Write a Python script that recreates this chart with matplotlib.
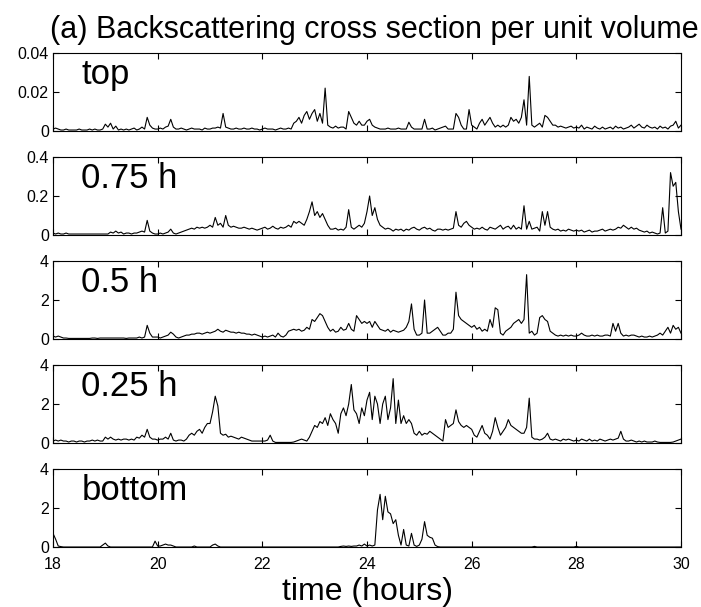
import numpy as np
import matplotlib
matplotlib.use('Agg')
import matplotlib.pyplot as plt

plt.rcParams['font.family'] = ['Liberation Sans', 'DejaVu Sans']

# valores, uma linha por hora (passo de 0.05 h)
# top: unidades de 1e-3
top_vals = [
    1, 1.5, 1, 0.5, 0.5, 1, 0.5, 0.5, 0.5, 0.5, 1, 0.5, 0.5, 0.5, 1, 0.5, 1, 0.5, 0.5, 1,
    3.5, 2, 4, 1, 2.5, 0.5, 1, 0.5, 1, 0.5, 1, 1.5, 0.5, 1, 2, 1, 7, 3, 1.5, 1,
    1, 1.5, 1, 2, 2.5, 6, 2, 1, 1, 1.5, 1, 0.5, 1, 1.5, 1, 1, 1, 0.5, 1.5, 1,
    1, 1.5, 1.5, 2, 1.5, 9, 2, 1.5, 1, 1, 1.5, 1, 1, 1.5, 1, 1, 1.5, 1, 1, 0.5,
    1, 1.5, 1, 1, 1, 0.5, 1, 1.5, 1, 1, 1.5, 1, 4, 5, 7, 4, 8, 10, 6, 9,
    11, 5, 9, 4, 22, 3, 2, 1.5, 2.5, 1.5, 2, 2, 1, 10, 7, 4, 3, 5, 3, 3,
    5, 6, 3, 2, 1.5, 1, 1, 1, 1.5, 1, 1, 1, 1.5, 1, 1, 1, 4.5, 2, 1, 1,
    1, 1, 6, 1, 1, 1.5, 0.5, 1, 1.5, 2, 2.5, 1, 1, 1, 9, 7, 3, 1, 1, 11,
    3, 2, 1, 4, 6, 3, 5, 7, 4, 2, 3, 2, 3, 2, 3, 7, 5, 6, 4, 7,
    16, 3, 28, 3, 2, 3, 4, 2, 8, 7, 5, 3, 3, 2, 2.5, 2, 1.5, 2, 2.5, 1.5,
    2, 1.5, 3, 1, 2, 1.5, 1, 2.5, 1.5, 1, 2, 1, 1.5, 2, 1, 2.5, 1.5, 2, 1, 1.5,
    2, 3, 1.5, 2.5, 3.5, 2, 1.5, 3, 2, 1.5, 2, 1, 2.5, 1.5, 2, 1, 2.5, 3, 5, 1.5,
    3]

# 0.75 h: unidades de 0.01
h075_vals = [
    1, 0.5, 1, 0.5, 0.5, 1, 0.5, 0.5, 0.5, 0.5, 0.5, 0.5, 0.5, 0.5, 0.5, 0.5, 0.5, 0.5, 0.5, 0.5,
    0.5, 0.5, 1.5, 1, 2, 1, 1.5, 0.5, 1, 1, 0.5, 1, 1, 1.5, 2, 1.5, 7.5, 2, 1, 0.5,
    0.5, 1, 0.5, 1, 1.5, 3, 1, 0.5, 1, 1.5, 2, 2.5, 3, 3.5, 3, 4, 3.5, 4, 3.5, 4,
    5, 4, 9, 5, 6, 4, 10, 5, 4, 4.5, 4, 3.5, 3.5, 4, 3.5, 3, 3.5, 3, 2.5, 3,
    3.5, 4, 3, 3.5, 4.5, 3.5, 3, 4, 3.5, 4, 5, 4, 7, 6, 7, 6, 5, 8, 12, 17,
    10, 12, 9, 11, 8, 5, 3, 3, 3.5, 2.5, 3, 2.5, 4, 13, 4, 3, 4, 5, 4, 6,
    12, 20, 10, 14, 8, 5, 4, 3, 3.5, 3, 2, 3, 2.5, 3, 2, 3, 2.5, 3.5, 4, 3,
    2.5, 3.5, 4, 3, 3.5, 2.5, 2, 3, 3, 2.5, 3, 2.5, 3, 3.5, 12, 5, 4, 6, 7, 5,
    4, 3, 3.5, 3, 4, 3, 2.5, 4, 3.5, 3, 4, 5, 3, 4, 4.5, 3, 5, 3, 4, 3,
    15, 3, 7, 3, 3.5, 4, 2, 12, 5, 12, 4, 3, 2.5, 3, 2, 2.5, 2, 3, 2.5, 2,
    2.5, 2, 2.5, 1.5, 2, 2.5, 1.5, 2, 2, 2.5, 3, 2, 2.5, 3, 2.5, 3, 4, 3.5, 5, 4,
    3, 4, 3, 3.5, 2.5, 2, 1.5, 2, 1, 1.5, 1, 0.5, 1, 14, 1, 2, 32, 25, 27, 12,
    3]

# 0.5 h: unidades de 0.1
h05_vals = [
    1.5, 1, 1.5, 1, 0.5, 0.5, 0.3, 0.3, 0.3, 0.3, 0.3, 0.3, 0.3, 0.3, 0.3, 0.5, 0.5, 0.3, 0.5, 0.5,
    0.5, 0.5, 0.5, 0.5, 0.5, 0.5, 0.5, 0.5, 0.3, 0.5, 0.5, 0.5, 0.5, 1, 0.5, 1, 7, 3, 1, 1,
    1, 0.5, 1, 1.5, 2, 3.5, 2.5, 1, 0.5, 1, 1.5, 2, 2, 2.5, 2.5, 3, 3, 2.5, 3, 3.5,
    3, 3.5, 4, 5, 4, 3.5, 4.5, 4, 3.5, 3.5, 3, 3.5, 3, 3, 2.5, 2.5, 2, 2.5, 2, 1.5,
    1, 1.5, 1, 1.5, 2, 1, 3, 1.5, 1, 2, 4, 4.5, 5, 4.5, 5, 4, 4.5, 6, 5, 10,
    9, 11, 13, 12, 9, 6, 4, 5, 3.5, 4, 6, 4.5, 5, 8, 5, 4, 12, 10, 8, 9,
    8, 9, 6, 9, 7, 5, 4.5, 4, 5, 3.5, 4.5, 4, 3.5, 4, 4.5, 6, 9, 18, 5, 2,
    2, 3, 20, 3, 3, 4, 5, 6, 4, 2, 2, 3, 3, 5, 24, 12, 10, 9, 8, 7,
    6, 7, 5, 6, 4, 5, 4, 10, 6, 16, 15, 3, 2, 4, 5, 6, 8, 9, 10, 8,
    10, 33, 3, 4, 2, 3, 11, 12, 10, 9, 4, 3, 2, 1.5, 2, 1.5, 2, 1.5, 2, 1.5,
    1.5, 2, 3, 2, 1.5, 1.5, 2, 1.5, 2, 1.5, 1.5, 2, 2, 1.5, 8, 4, 8, 3, 1.5, 2,
    1.5, 2, 2, 1.5, 1, 1.5, 1, 1, 1.5, 1, 1.5, 2, 3, 2, 4, 6, 3, 7, 5, 6,
    3]

# 0.25 h: unidades de 0.1
h025_vals = [
    1, 1.5, 1, 1.5, 1, 1, 0.5, 1, 1, 0.5, 1, 1, 0.5, 1, 1, 1.5, 1, 1.5, 1, 1,
    3, 2, 3, 2, 1.5, 2, 1.5, 2, 2, 1.5, 2, 1.5, 3, 2.5, 4, 3, 7, 3, 2, 2,
    1.5, 2, 2, 3, 2, 5, 1.5, 1, 1.5, 1.5, 1, 2, 4, 5, 4, 6, 7, 5, 8, 10,
    10, 16, 24, 19, 5, 4, 4.5, 3, 3.5, 3, 2.5, 2, 3, 2.5, 2, 1.5, 1, 1, 1, 1,
    1, 1, 1.5, 4, 1, 0.3, 0.3, 0.3, 0.3, 0.3, 0.3, 0.3, 0.5, 1, 1.5, 2, 1.5, 1, 3, 6,
    9, 8, 11, 10, 13, 9, 15, 12, 10, 5, 15, 18, 14, 20, 30, 17, 15, 10, 18, 14,
    22, 26, 12, 24, 20, 10, 20, 24, 12, 18, 33, 10, 22, 10, 14, 10, 12, 10, 5, 4,
    6, 4, 5, 4.5, 6, 5, 4, 3, 2, 1, 12, 8, 9, 10, 17, 11, 9, 8, 9, 8,
    7, 4, 3, 6, 9, 5, 4, 2, 6, 13, 8, 4, 6, 8, 12, 9, 8, 7, 6, 5,
    5, 8, 23, 3, 2, 2, 1.5, 2, 3, 5, 2, 1.5, 2, 1.5, 1, 2, 1.5, 2, 1.5, 1,
    1.5, 1, 2, 1.5, 1, 2, 1, 1.5, 1, 2, 1.5, 1, 1.5, 2, 1.5, 2, 2.5, 6, 2, 1,
    1, 1.5, 1, 0.5, 1, 0.5, 1, 0.5, 0.5, 0.5, 1, 0.5, 0.3, 0.3, 0.3, 0.3, 0.3, 0.5, 1, 1.5,
    2]

# bottom: unidades de 0.1
bottom_vals = [
    7, 4, 0.5, 0.2, 0, 0, 0, 0, 0, 0, 0, 0, 0, 0, 0, 0, 0, 0, 0, 1,
    2, 0.5, 0, 0, 0, 0, 0, 0, 0, 0, 0, 0, 0, 0, 0, 0, 0, 0, 0, 3,
    0.5, 0.5, 1, 1.5, 1, 1, 0.5, 0, 0, 0, 0, 0, 0, 0, 0.5, 0, 0, 0, 0, 0,
    0, 1, 1.5, 0.5, 0, 0, 0, 0, 0, 0, 0, 0, 0, 0, 0, 0, 0, 0, 0, 0,
    0, 0, 0, 0, 0, 0, 0, 0, 0, 0, 0, 0, 0, 0, 0, 0, 0, 0, 0, 0,
    0, 0, 0, 0, 0, 0, 0, 0, 0, 0, 0.3, 0.5, 0.3, 0.5, 0.3, 0.5, 0.5, 1, 0.5, 1.5,
    0.5, 1, 0.5, 1, 19, 27, 14, 26, 18, 17, 12, 14, 6, 1, 9, 1, 0.5, 7, 1, 0.3,
    1, 4, 13, 6, 5, 4.5, 1, 0.2, 0, 0, 0, 0, 0, 0, 0, 0, 0, 0, 0, 0,
    0, 0, 0, 0, 0, 0, 0, 0, 0, 0, 0, 0, 0, 0, 0, 0, 0, 0, 0, 0,
    0, 0, 0, 0, 0.3, 0, 0, 0, 0, 0, 0, 0, 0, 0, 0, 0, 0, 0, 0, 0,
    0.3, 0, 0, 0, 0, 0, 0, 0, 0, 0, 0, 0, 0, 0, 0, 0, 0, 0, 0, 0,
    0, 0, 0, 0, 0, 0, 0, 0, 0, 0, 0, 0, 0, 0, 0, 0, 0, 0, 0, 0,
    0]

series = [top_vals, h075_vals, h05_vals, h025_vals, bottom_vals]
units = [1e-3, 1e-2, 0.1, 0.1, 0.1]
panel_names = ['top', '0.75 h', '0.5 h', '0.25 h', 'bottom']
ymax = [0.04, 0.4, 4, 4, 4]
ytick_labels = [['0', '0.02', '0.04'], ['0', '0.2', '0.4'],
                ['0', '2', '4'], ['0', '2', '4'], ['0', '2', '4']]
xticks = [18, 20, 22, 24, 26, 28, 30]

fig = plt.figure(figsize=(7.01, 6.07), dpi=100)

W, H = 701.0, 607.0
left, width = 53 / W, 628 / W
tops = [53, 157, 261, 365, 469]
ph = 78

axes = []
for i in range(5):
    ax = fig.add_axes([left, (H - tops[i] - ph) / H, width, ph / H])
    y = np.array(series[i]) * units[i]
    t = np.linspace(18, 30, len(y))
    ax.plot(t, y, color='black', lw=0.8)
    ax.set_xlim(18, 30)
    ax.set_ylim(0, ymax[i])
    ax.set_yticks(np.linspace(0, ymax[i], 3))
    ax.set_yticklabels(ytick_labels[i])
    ax.set_xticks(xticks)
    ax.tick_params(direction='in', top=True, right=True, length=4.5, width=0.8,
                   labelsize=11.5)
    ax.tick_params(axis='y', pad=3)
    ax.tick_params(axis='x', pad=7)
    if i < 4:
        ax.set_xticklabels([])
    for s in ax.spines.values():
        s.set_linewidth(0.8)
    ax.text(0.045, 0.93, panel_names[i], transform=ax.transAxes,
            fontsize=25, va='top', ha='left')
    axes.append(ax)

axes[-1].set_xlabel('time (hours)', fontsize=23, labelpad=4)
fig.text(374 / W, 1 - 30 / H, '(a) Backscattering cross section per unit volume',
         fontsize=22, ha='center', va='center')

plt.savefig('out.png', dpi=100)
